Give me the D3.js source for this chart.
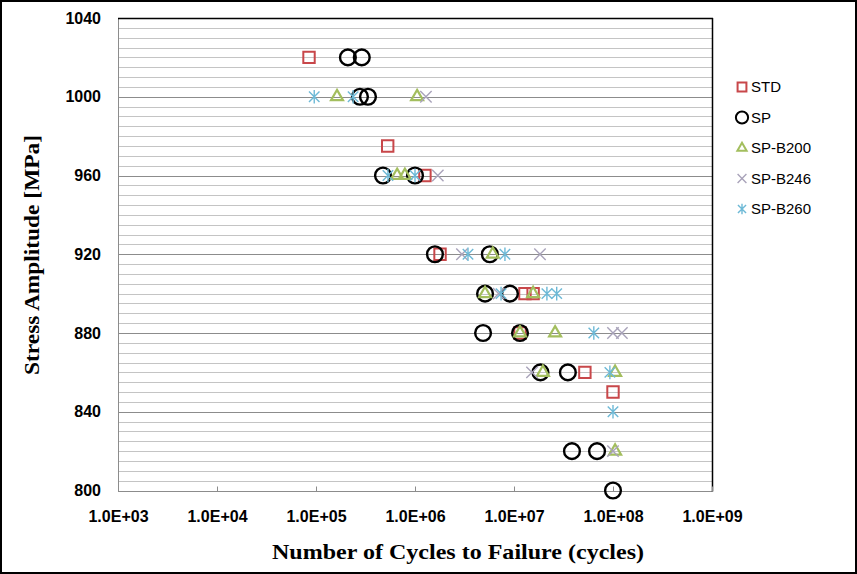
<!DOCTYPE html>
<html>
<head>
<meta charset="utf-8">
<script src="https://cdn.jsdelivr.net/npm/d3@7"></script>
<style>
  body { margin: 0; background: #fff; }
  svg { display: block; }
</style>
</head>
<body>
<script>
// [cycles, stress MPa]
let stdPoints = [[8.5e4, 1020], [5.3e5, 975], [1.26e6, 960], [1.79e6, 920], [1.29e7, 900], [1.56e7, 900], [1.15e7, 880], [5.2e7, 860], [1.0e8, 850]];
let spPoints = [[2.1e5, 1020], [2.9e5, 1020], [2.78e5, 1000], [3.35e5, 1000], [4.75e5, 960], [1.0e6, 960], [1.59e6, 920], [5.7e6, 920], [5.1e6, 900], [9.1e6, 900], [4.87e6, 880], [1.15e7, 880], [1.85e7, 860], [3.5e7, 860], [3.85e7, 820], [6.9e7, 820], [1.0e8, 800]];
let b200Points = [[1.63e5, 1000], [1.05e6, 1000], [6.6e5, 960], [7.9e5, 960], [6.1e6, 920], [5.1e6, 900], [1.56e7, 900], [1.15e7, 880], [2.6e7, 880], [1.96e7, 860], [1.05e8, 860], [1.05e8, 820]];
let b246Points = [[1.29e6, 1000], [1.7e6, 960], [2.98e6, 920], [1.83e7, 920], [7.0e6, 900], [1.0e8, 880], [1.23e8, 880], [1.52e7, 860], [1.0e8, 820]];
let b260Points = [[9.6e4, 1000], [2.37e5, 1000], [5.33e5, 960], [1.0e6, 960], [3.43e6, 920], [8.1e6, 920], [7.4e6, 900], [2.15e7, 900], [2.7e7, 900], [6.4e7, 880], [9.3e7, 860], [1.0e8, 840]];

let seriesNames = ["STD", "SP", "SP-B200", "SP-B246", "SP-B260"];
let xTicks = [1e3, 1e4, 1e5, 1e6, 1e7, 1e8, 1e9];
let yTicks = [800, 840, 880, 920, 960, 1000, 1040];

let width = 857, height = 574;
let plotLeft = 118, plotRight = 712, plotTop = 18, plotBottom = 490.5;

let crossShape = {
  draw: function (ctx, size) {
    let r = Math.sqrt(size) / 2;
    ctx.moveTo(-r, -r); ctx.lineTo(r, r);
    ctx.moveTo(-r, r); ctx.lineTo(r, -r);
  }
};
let starShape = {
  draw: function (ctx, size) {
    let r = Math.sqrt(size) / 2;
    ctx.moveTo(-r, -r); ctx.lineTo(r, r);
    ctx.moveTo(-r, r); ctx.lineTo(r, -r);
    ctx.moveTo(0, -r * 1.3); ctx.lineTo(0, r * 1.3);
  }
};

let styles = [
  { type: d3.symbolSquare, size: 130, color: "#C8474A", width: 2 },
  { type: d3.symbolCircle, size: 195, color: "#000", width: 2.4 },
  { type: d3.symbolTriangle, size: 62, color: "#A3BE5E", width: 2.2 },
  { type: crossShape, size: 130, color: "#A9A3BA", width: 1.4 },
  { type: starShape, size: 110, color: "#6DB9D6", width: 1.4 }
];
let allSeries = [stdPoints, spPoints, b200Points, b246Points, b260Points];

let svg = d3.select("body").append("svg")
  .attr("width", width)
  .attr("height", height);

svg.append("rect")
  .attr("x", 1).attr("y", 1)
  .attr("width", width - 2).attr("height", height - 2)
  .attr("fill", "#fff")
  .attr("stroke", "#000")
  .attr("stroke-width", 2);

let x = d3.scaleLog().domain([1e3, 1e9]).range([plotLeft, plotRight]);
let y = d3.scaleLinear().domain([800, 1040]).range([plotBottom, plotTop]);

// horizontal grid, minor every 5 MPa, major every 40
svg.append("g")
  .selectAll("line")
  .data(d3.range(805, 1040, 5))
  .enter()
  .append("line")
  .attr("x1", plotLeft).attr("x2", plotRight)
  .attr("y1", function (d) { return Math.round(y(d)) + 0.5; })
  .attr("y2", function (d) { return Math.round(y(d)) + 0.5; })
  .attr("stroke", function (d) { return (d - 800) % 40 == 0 ? "#8C8C8C" : "#C4C4C4"; })
  .attr("stroke-width", 1);

// axes lines
svg.append("line")
  .attr("x1", plotLeft + 0.5).attr("x2", plotLeft + 0.5)
  .attr("y1", plotTop).attr("y2", plotBottom)
  .attr("stroke", "#8C8C8C");
svg.append("line")
  .attr("x1", plotLeft).attr("x2", plotRight)
  .attr("y1", Math.round(plotBottom) + 0.5).attr("y2", Math.round(plotBottom) + 0.5)
  .attr("stroke", "#8C8C8C");
svg.append("line")
  .attr("x1", plotLeft).attr("x2", plotRight + 1)
  .attr("y1", plotTop + 0.5).attr("y2", plotTop + 0.5)
  .attr("stroke", "#000").attr("stroke-width", 1.5);
svg.append("line")
  .attr("x1", plotRight + 0.5).attr("x2", plotRight + 0.5)
  .attr("y1", plotTop).attr("y2", plotBottom + 1)
  .attr("stroke", "#000").attr("stroke-width", 1.5);

// inner tick marks on the x axis
svg.append("g")
  .attr("transform", "translate(0," + (Math.round(plotBottom) + 0.5) + ")")
  .call(d3.axisTop(x).tickValues(xTicks).tickSize(5).tickFormat(""))
  .call(function (g) { g.select(".domain").remove(); })
  .call(function (g) { g.selectAll(".tick line").attr("stroke", "#8C8C8C"); });

let xAxis = svg.append("g")
  .attr("transform", "translate(0," + plotBottom + ")")
  .call(d3.axisBottom(x).tickValues(xTicks).tickSize(0).tickPadding(20)
    .tickFormat(function (d) { return "1.0E+" + d3.format("02d")(Math.round(Math.log10(d))); }));
xAxis.select(".domain").remove();
xAxis.selectAll("text")
  .attr("font-family", "'Liberation Sans', Arial, sans-serif")
  .attr("font-weight", "bold")
  .attr("font-size", "16px")
  .attr("fill", "#000");

let yAxis = svg.append("g")
  .attr("transform", "translate(" + (plotLeft - 17) + ",0)")
  .call(d3.axisLeft(y).tickValues(yTicks).tickSize(0).tickPadding(0).tickFormat(d3.format("d")));
yAxis.select(".domain").remove();
yAxis.selectAll("text")
  .attr("font-family", "'Liberation Sans', Arial, sans-serif")
  .attr("font-weight", "bold")
  .attr("font-size", "16px")
  .attr("fill", "#000");

// points
allSeries.forEach(function (points, i) {
  let s = styles[i];
  svg.append("g")
    .selectAll("path")
    .data(points)
    .enter()
    .append("path")
    .attr("transform", function (d) { return "translate(" + x(d[0]) + "," + y(d[1]) + ")"; })
    .attr("d", d3.symbol().type(s.type).size(s.size))
    .attr("fill", "none")
    .attr("stroke", s.color)
    .attr("stroke-width", s.width);
});

// legend
let legend = svg.append("g")
  .selectAll("g")
  .data(seriesNames)
  .enter()
  .append("g")
  .attr("transform", function (d, i) { return "translate(742," + (87 + i * 30.5) + ")"; });

legend.append("path")
  .attr("d", function (d, i) { return d3.symbol().type(styles[i].type).size(styles[i].size * 0.6)(); })
  .attr("fill", "none")
  .attr("stroke", function (d, i) { return styles[i].color; })
  .attr("stroke-width", function (d, i) { return Math.min(styles[i].width, 2); });

legend.append("text")
  .attr("x", 9)
  .attr("dy", "0.36em")
  .attr("font-family", "'Liberation Sans', Arial, sans-serif")
  .attr("font-size", "15px")
  .attr("fill", "#000")
  .text(function (d) { return d; });

// titles
svg.append("text")
  .attr("x", 458)
  .attr("y", 559)
  .attr("text-anchor", "middle")
  .attr("font-family", "'Liberation Serif', 'Times New Roman', serif")
  .attr("font-weight", "bold")
  .attr("font-size", "21px")
  .attr("textLength", 372)
  .attr("lengthAdjust", "spacingAndGlyphs")
  .text("Number of Cycles to Failure (cycles)");

svg.append("text")
  .attr("transform", "translate(39,255) rotate(-90)")
  .attr("text-anchor", "middle")
  .attr("font-family", "'Liberation Serif', 'Times New Roman', serif")
  .attr("font-weight", "bold")
  .attr("font-size", "21px")
  .attr("textLength", 240)
  .attr("lengthAdjust", "spacingAndGlyphs")
  .text("Stress Amplitude [MPa]");
</script>
</body>
</html>
